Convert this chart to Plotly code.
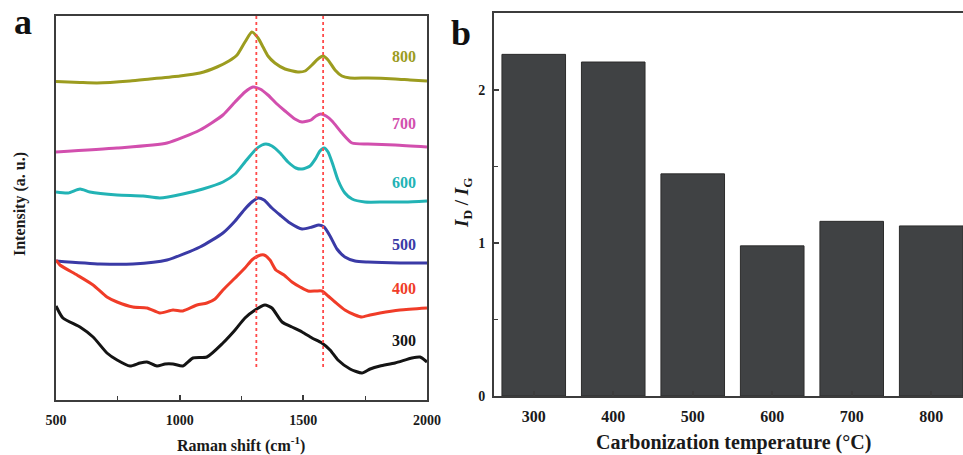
import plotly.graph_objects as go

# ---- Panel a: Raman spectra (stacked, arbitrary units) ----
wn_800 = [500, 597, 666, 799, 880, 1001, 1082, 1151, 1199, 1232, 1264, 1292, 1317, 1337, 1357,
          1385, 1426, 1478, 1507, 1535, 1559, 1580, 1600, 1628, 1656, 1689, 1761, 1871, 1931, 2000]
int_800 = [318.5, 317.5, 317, 319, 321, 324, 327, 333, 339, 345, 358, 368, 362, 353, 344,
           337, 331, 328, 329, 335, 341, 344, 340, 330, 324, 322, 322, 321, 320, 319]

wn_700 = [500, 747, 949, 1082, 1175, 1224, 1264, 1296, 1325, 1357, 1389, 1426, 1466, 1495,
          1531, 1551, 1571, 1592, 1616, 1656, 1697, 1761, 1871, 2000]
int_700 = [248, 252, 257, 270, 285, 298, 308, 313, 311, 305, 297, 289, 281, 278,
           280, 284, 286, 284, 279, 267, 257, 256, 255, 253]

wn_600 = [500, 549, 597, 637, 747, 852, 920, 1013, 1094, 1175, 1224, 1264, 1305, 1333, 1349,
          1373, 1406, 1438, 1470, 1495, 1527, 1551, 1567, 1584, 1600, 1620, 1640, 1668, 1697,
          1749, 1830, 1911, 2000]
int_600 = [208, 207, 211, 208, 205, 204, 202, 206, 211, 218, 226, 238, 250, 255, 256,
           254, 247, 238, 232, 231, 234, 242, 249, 252, 248, 235, 220, 207, 201,
           198, 198, 198, 199]

wn_500 = [500, 678, 811, 949, 1082, 1175, 1224, 1264, 1292, 1317, 1341, 1373, 1406, 1446,
          1495, 1535, 1563, 1584, 1608, 1636, 1668, 1709, 1761, 1891, 2000]
int_500 = [139, 136, 136, 140, 153, 167, 179, 191, 198, 202, 200, 192, 185, 177,
           171, 173, 175, 173, 164, 151, 143, 139, 138, 137, 137]

wn_400 = [500, 516, 585, 650, 706, 747, 811, 868, 920, 973, 1013, 1070, 1110, 1143, 1175,
          1224, 1264, 1292, 1317, 1341, 1365, 1389, 1422, 1454, 1487, 1519, 1551, 1575,
          1600, 1628, 1668, 1709, 1737, 1770, 1810, 1891, 2000]
int_400 = [140, 135, 125, 115, 103, 98, 93, 92, 87, 90, 89, 95, 97, 101, 110,
           122, 132, 140, 144, 145, 140, 130, 125, 118, 113, 109, 109, 109,
           104, 98, 90, 85, 83, 85, 87, 90, 92]

wn_300 = [500, 528, 597, 650, 706, 747, 799, 840, 868, 908, 941, 973, 1013, 1054, 1110,
          1175, 1224, 1264, 1305, 1345, 1373, 1414, 1454, 1495, 1535, 1575, 1608, 1640,
          1689, 1737, 1770, 1810, 1871, 1939, 1972, 2000]
int_300 = [94, 82, 73, 63, 47, 40, 34, 37, 38, 34, 36, 36, 34, 42, 43,
           57, 70, 82, 90, 95, 92, 78, 73, 68, 62, 57, 50, 40,
           31, 27, 31, 34, 37, 42, 43, 38]

spectra = [
    ("800", wn_800, int_800, "#9c9c1f", 343),
    ("700", wn_700, int_700, "#d24fae", 277),
    ("600", wn_600, int_600, "#22b3b5", 218),
    ("500", wn_500, int_500, "#3a3aa6", 156),
    ("400", wn_400, int_400, "#f03c28", 112),
    ("300", wn_300, int_300, "#141414", 60),
]
label_wn = 1905

# Reference band positions (D and G)
band_positions = [1310, 1580]
band_line_bottom = 33

# ---- Panel b: ID/IG ratio ----
temperatures = ["300", "400", "500", "600", "700", "800"]
id_ig = [2.23, 2.18, 1.45, 0.98, 1.14, 1.11]

SERIF = "Liberation Serif, Times New Roman, serif"
FRAME = "#3c3c3c"
TEXT = "#1a1a1a"

fig = go.Figure()

for name, wn, inten, color, lab_y in spectra:
    fig.add_trace(go.Scatter(
        x=wn, y=inten, mode="lines", name=name,
        line=dict(color=color, width=3, shape="spline", smoothing=0.6),
        xaxis="x", yaxis="y", showlegend=False,
    ))
    fig.add_annotation(
        x=label_wn, y=lab_y, xref="x", yref="y", text=f"<b>{name}</b>",
        xanchor="center", yanchor="middle",
        showarrow=False, font=dict(family=SERIF, size=16, color=color),
    )

for pos in band_positions:
    fig.add_shape(
        type="line", xref="x", yref="y", x0=pos, x1=pos,
        y0=band_line_bottom, y1=384,
        line=dict(color="#ff4a4a", width=1.8, dash="dot"),
    )

fig.add_trace(go.Bar(
    x=list(range(len(temperatures))), y=id_ig,
    marker=dict(color="#404244", line=dict(color="#2c2c2c", width=1)),
    width=0.8, xaxis="x2", yaxis="y2", showlegend=False,
))

fig.update_layout(
    template="none",
    width=963, height=455,
    margin=dict(l=0, r=0, t=0, b=0, autoexpand=False),
    paper_bgcolor="white", plot_bgcolor="white",
    showlegend=False,
    xaxis=dict(
        domain=[56 / 963, 427 / 963], range=[500, 2000], automargin=False,
        tickvals=[500, 1000, 1500, 2000],
        ticktext=["<b>500</b>", "<b>1000</b>", "<b>1500</b>", "<b>2000</b>"],
        ticks="inside", ticklen=5, tickwidth=1.5, tickcolor=FRAME,
        minor=dict(tickvals=[750, 1250, 1750], ticks="inside", ticklen=4,
                   tickwidth=1.2, tickcolor=FRAME),
        showline=True, linecolor=FRAME, linewidth=1.8, mirror=True,
        showgrid=False, zeroline=False, ticklabelstandoff=6,
        tickfont=dict(family=SERIF, size=14, color=TEXT),
    ),
    yaxis=dict(
        domain=[55 / 455, 439 / 455], range=[0, 384], automargin=False,
        showticklabels=False, ticks="",
        showline=True, linecolor=FRAME, linewidth=1.8, mirror=True,
        showgrid=False, zeroline=False,
    ),
    xaxis2=dict(
        domain=[494 / 963, 1.0], range=[-0.5, 5.4], anchor="y2", automargin=False,
        tickvals=list(range(len(temperatures))),
        ticktext=[f"<b>{t}</b>" for t in temperatures],
        ticks="inside", ticklen=5, tickwidth=1.5, tickcolor=FRAME,
        showline=True, linecolor=FRAME, linewidth=1.8, mirror=True,
        showgrid=False, zeroline=False, ticklabelstandoff=5,
        tickfont=dict(family=SERIF, size=16, color=TEXT),
    ),
    yaxis2=dict(
        domain=[59 / 455, 442 / 455], range=[0, 2.5], anchor="x2", automargin=False,
        tickvals=[0, 1, 2], ticktext=["<b>0</b>", "<b>1</b>", "<b>2</b>"],
        ticks="inside", ticklen=5, tickwidth=1.5, tickcolor=FRAME,
        minor=dict(tickvals=[0.5, 1.5], ticks="inside", ticklen=4,
                   tickwidth=1.2, tickcolor=FRAME),
        showline=True, linecolor=FRAME, linewidth=1.8, mirror=False,
        showgrid=False, zeroline=False, ticklabelstandoff=4,
        tickfont=dict(family=SERIF, size=14, color=TEXT),
    ),
)


def paper_text(x_px, y_px, text, size, angle=0, color=TEXT):
    fig.add_annotation(
        x=x_px / 963, y=1 - y_px / 455, xref="paper", yref="paper",
        xanchor="center", yanchor="middle", text=text, textangle=angle,
        showarrow=False, font=dict(family=SERIF, size=size, color=color),
    )


# Axis titles and panel letters
paper_text(241, 444, "<b>Raman shift (cm<sup>-1</sup>)</b>", 16)
paper_text(20, 204, "<b>Intensity (a. u.)</b>", 16, angle=-90)
paper_text(733, 442, "<b>Carbonization temperature (°C)</b>", 20)
paper_text(463, 203, "<b><i>I</i><sub>D</sub> / <i>I</i><sub>G</sub></b>", 19, angle=-90)
paper_text(23, 22, "<b>a</b>", 36, color="#111111")
paper_text(461, 33, "<b>b</b>", 36, color="#111111")

fig.write_html("out.html")
